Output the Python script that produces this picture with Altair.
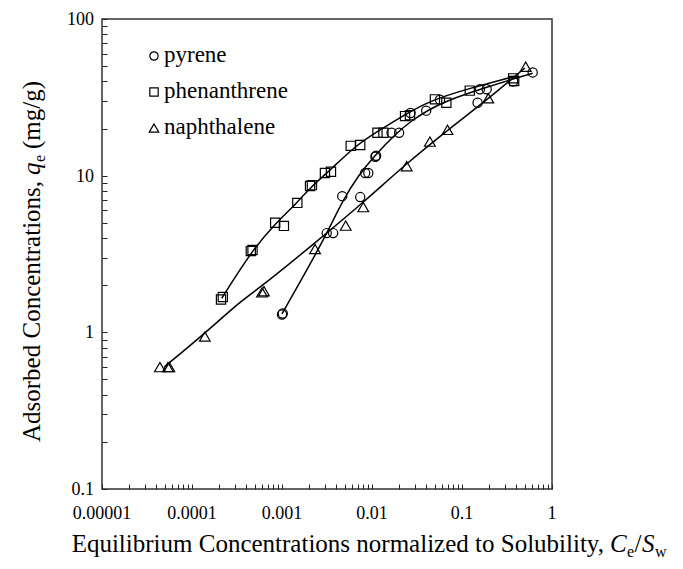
import altair as alt
import pandas as pd

# ---------------- data ----------------
series_names = ["pyrene", "phenanthrene", "naphthalene"]
series_shapes = ["circle", "square", "triangle-up"]

pyr_x = [1.0e-3, 1.02e-3, 3.14e-3, 3.7e-3, 4.67e-3, 7.4e-3, 8.4e-3, 9.1e-3, 0.0109, 0.0111,
         0.0165, 0.020, 0.0268, 0.040, 0.057, 0.149, 0.158, 0.188, 0.37, 0.61]
pyr_y = [1.30, 1.32, 4.3, 4.3, 7.4, 7.3, 10.4, 10.4, 13.2, 13.4,
         18.8, 18.8, 25.1, 26.0, 30.5, 29.2, 35.6, 35.6, 39.9, 45.6]

phen_x = [2.1e-4, 2.2e-4, 4.5e-4, 4.7e-4, 8.4e-4, 1.05e-3, 1.48e-3, 2.05e-3, 2.15e-3, 3.0e-3,
          3.5e-3, 5.8e-3, 7.4e-3, 0.0115, 0.0134, 0.0233, 0.0264, 0.050, 0.067, 0.122, 0.37, 0.38]
phen_y = [1.62, 1.68, 3.3, 3.35, 5.0, 4.78, 6.7, 8.6, 8.7, 10.4,
          10.6, 15.5, 15.7, 18.8, 18.8, 24.0, 24.3, 30.7, 29.2, 34.9, 41.8, 40.2]

naph_x = [4.4e-5, 5.4e-5, 5.6e-5, 1.39e-4, 6.0e-4, 6.3e-4, 2.33e-3, 5.1e-3, 8.0e-3, 0.0243,
          0.044, 0.069, 0.196, 0.51]
naph_y = [0.60, 0.60, 0.60, 0.94, 1.80, 1.83, 3.4, 4.8, 6.3, 11.5,
          16.5, 19.6, 31.2, 49.6]

# fitted curves, points
pyr_fit_x = [1.0e-3, 2.0e-3, 3.2e-3, 4.7e-3, 7.0e-3, 0.0108, 0.018, 0.027, 0.042, 0.065, 0.15, 0.37, 0.61]
pyr_fit_y = [1.31, 2.65, 4.35, 6.9, 10.0, 13.5, 18.3, 22.3, 26.2, 29.8, 35.2, 41.5, 45.0]

phen_fit_x = [2.14e-4, 4.6e-4, 8.4e-4, 1.47e-3, 2.1e-3, 3.3e-3, 6.5e-3, 0.0123, 0.0233, 0.0465, 0.12, 0.38]
phen_fit_y = [1.65, 3.3, 4.95, 6.7, 8.5, 10.6, 15.5, 19.6, 24.6, 30.5, 36.0, 43.0]

naph_fit_x = [4.9e-5, 1.46e-4, 3.41e-4, 6.2e-4, 2.43e-3, 7.9e-3, 0.0243, 0.0736, 0.188, 0.50]
naph_fit_y = [0.60, 1.01, 1.57, 2.0, 3.8, 6.7, 12.0, 20.1, 30.4, 48.7]

x_major = [0.00001, 0.0001, 0.001, 0.01, 0.1, 1]
x_labels = ["0.00001", "0.0001", "0.001", "0.01", "0.1", "1"]
y_major = [0.1, 1, 10, 100]
y_labels = ["0.1", "1", "10", "100"]
minor_mult = [2, 3, 4, 5, 6, 7, 8, 9]

# ---------------- tables ----------------
pyr_df = pd.DataFrame({"x": pyr_x, "y": pyr_y})
phen_df = pd.DataFrame({"x": phen_x, "y": phen_y})
naph_df = pd.DataFrame({"x": naph_x, "y": naph_y})
fits = pd.concat([
    pd.DataFrame({"x": pyr_fit_x, "y": pyr_fit_y, "s": "pyrene", "o": range(len(pyr_fit_x))}),
    pd.DataFrame({"x": phen_fit_x, "y": phen_fit_y, "s": "phenanthrene", "o": range(len(phen_fit_x))}),
    pd.DataFrame({"x": naph_fit_x, "y": naph_fit_y, "s": "naphthalene", "o": range(len(naph_fit_x))}),
])

x_ticks = sorted(x_major + [m * v for v in x_major[:-1] for m in minor_mult])
y_ticks = sorted(y_major + [m * v for v in y_major[:-1] for m in minor_mult])

FONT = "Liberation Serif"
SERIF = "Times New Roman, Liberation Serif, Tinos, serif"
W, H = 450, 470

xscale = alt.Scale(type="log", domain=[0.00001, 1])
yscale = alt.Scale(type="log", domain=[0.1, 100])

xaxis = alt.Axis(values=x_ticks, labels=False, title=None, grid=False, domain=False,
                 offset=-5, tickSize=5, tickColor="#222", tickWidth=1)
yaxis = alt.Axis(values=y_ticks, labels=False, title=None, grid=False, domain=False,
                 offset=-5, tickSize=5, tickColor="#222", tickWidth=1)

lines = alt.Chart(fits).mark_line(color="black", strokeWidth=1.5, interpolate="basis").encode(
    x=alt.X("x:Q", scale=xscale, axis=xaxis),
    y=alt.Y("y:Q", scale=yscale, axis=yaxis),
    detail="s:N",
    order="o:Q",
)

def pts_layer(df, shape, size):
    return alt.Chart(df).mark_point(filled=False, color="black", strokeWidth=1.2, opacity=1,
                                    shape=shape, size=size).encode(
        x=alt.X("x:Q", scale=xscale, axis=xaxis),
        y=alt.Y("y:Q", scale=yscale, axis=yaxis),
    )

p_pyr = pts_layer(pyr_df, "circle", 85)
p_phen = pts_layer(phen_df, "square", 85)
p_naph = pts_layer(naph_df, "triangle-up", 115)

# tick labels
xlab = alt.Chart(pd.DataFrame({"v": x_major, "t": x_labels})).mark_text(
    font=SERIF, fontSize=18, fontStyle="normal", fontWeight="normal",
    baseline="alphabetic", align="center", color="black", angle=0
).encode(x=alt.X("v:Q", scale=xscale, axis=xaxis), y=alt.value(H + 30), text="t:N")
ylab = alt.Chart(pd.DataFrame({"v": y_major, "t": y_labels})).mark_text(
    font=SERIF, fontSize=18, fontStyle="normal", fontWeight="normal",
    baseline="alphabetic", align="right", color="black", angle=0, dy=6
).encode(y=alt.Y("v:Q", scale=yscale, axis=yaxis), x=alt.value(-8), text="t:N")

# legend
leg_y = [37, 73, 109]
legend_layers = []
for name, shape, ly, sz in zip(series_names, series_shapes, leg_y, [70, 70, 90]):
    legend_layers.append(
        alt.Chart(pd.DataFrame({"t": [name]})).mark_point(
            filled=False, color="black", strokeWidth=1.2, opacity=1, shape=shape, size=sz
        ).encode(x=alt.value(52), y=alt.value(ly))
    )
    legend_layers.append(
        alt.Chart(pd.DataFrame({"t": [name]})).mark_text(
            font=SERIF, fontSize=23, fontStyle="normal", fontWeight="normal", angle=0,
            align="left", baseline="alphabetic", color="black"
        ).encode(text="t:N", x=alt.value(62), y=alt.value(ly + 6))
    )

# axis titles with italic / subscript pieces
def txt(text, x, y, size=25, style="normal", angle=0, align="left"):
    return alt.Chart(pd.DataFrame({"t": [text]})).mark_text(
        font=FONT, fontSize=size, fontStyle=style, fontWeight="normal", angle=angle, align=align,
        baseline="alphabetic", color="black"
    ).encode(text="t:N", x=alt.value(x), y=alt.value(y))

xb = 533   # baseline of x title (relative to plot top)
xt = [
    txt("Equilibrium Concentrations normalized to Solubility,", 502, xb, align="right"),
    txt("C", 508, xb, style="italic"),
    txt("e", 525, xb + 5, size=16),
    txt("/", 532.5, xb),
    txt("S", 540, xb, style="italic"),
    txt("w", 553, xb + 5, size=16),
]
yb = -62   # baseline x of y title (relative to plot left)
yt = [
    txt("Adsorbed Concentrations,", yb, 423, angle=270),
    txt("q", yb, 156, style="italic", angle=270),
    txt("e", yb + 5, 143, size=16, angle=270),
    txt("(mg/g)", yb, 130, angle=270),
]

chart = alt.layer(lines, p_pyr, p_phen, p_naph, xlab, ylab, *legend_layers, *xt, *yt).properties(
    width=W, height=H,
    padding={"left": 94, "top": 11, "right": 123, "bottom": 72},
    autosize=alt.AutoSizeParams(type="none"),
).configure(
    background="white", font=FONT
).configure_view(
    stroke="#333", strokeWidth=1.5
)

chart.save("out.html", embed_options={"renderer": "svg", "actions": False})
